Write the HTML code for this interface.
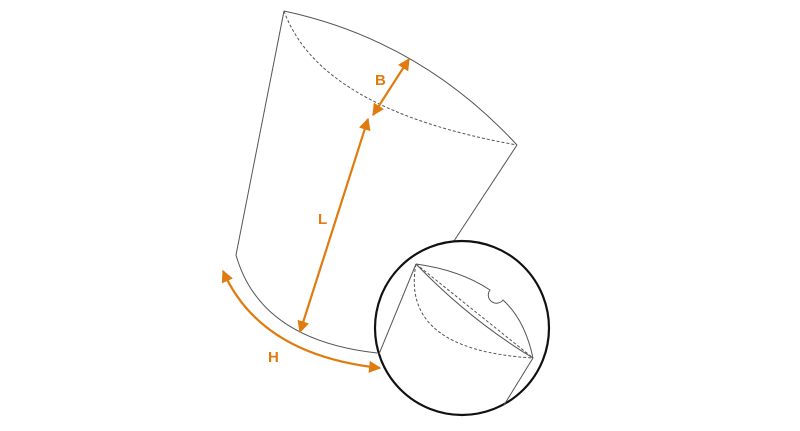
<!DOCTYPE html>
<html><head><meta charset="utf-8"><style>
html,body{margin:0;padding:0;background:#fff;}
svg{display:block;}
text{font-family:"Liberation Sans",sans-serif;font-weight:bold;font-size:15px;fill:#e07b10;}
</style></head><body>
<svg width="800" height="431" viewBox="0 0 800 431" xmlns="http://www.w3.org/2000/svg">
<defs>
<marker id="a" viewBox="0 0 10 10" refX="9" refY="5" markerWidth="5.5" markerHeight="5.5" orient="auto-start-reverse" markerUnits="strokeWidth">
<path d="M0,0 L10,5 L0,10 z" fill="#e07b10"/></marker>
</defs>
<g fill="none" stroke="#555" stroke-width="1">
<path d="M284,11 Q420,40 517,145"/>
<path d="M284,11 Q320,110 517,145" stroke-dasharray="3,2"/>
<path d="M284,11 L236,255"/>
<path d="M517,145 L452,244"/>
<path d="M236,255 Q260,340 377,353"/>
</g>
<circle cx="462" cy="328" r="87" fill="#fff" stroke="#111" stroke-width="2.2"/>
<g fill="none" stroke="#555" stroke-width="1">
<path d="M416,264 L379,354"/>
<path d="M533,358 L504,405"/>
<path d="M416,264 Q460,270 490,290 A6,6 0 0 0 503,300 Q525,320 533,358"/>
<path d="M416,264 Q470,320 533,358"/>
<path d="M416,264 L533,358" stroke-dasharray="3,2"/>
<path d="M416,264 Q400,350 533,358" stroke-dasharray="3,2"/>
</g>
<g fill="none" stroke="#e07b10" stroke-width="2.2">
<path d="M409,59 L373,115" marker-start="url(#a)" marker-end="url(#a)"/>
<path d="M368,119 L300,332" marker-start="url(#a)" marker-end="url(#a)"/>
<path d="M223,271 Q260,355 380,368" marker-start="url(#a)" marker-end="url(#a)"/>
</g>
<text x="375" y="85">B</text>
<text x="318" y="224">L</text>
<text x="268" y="362">H</text>
</svg>
</body></html>
